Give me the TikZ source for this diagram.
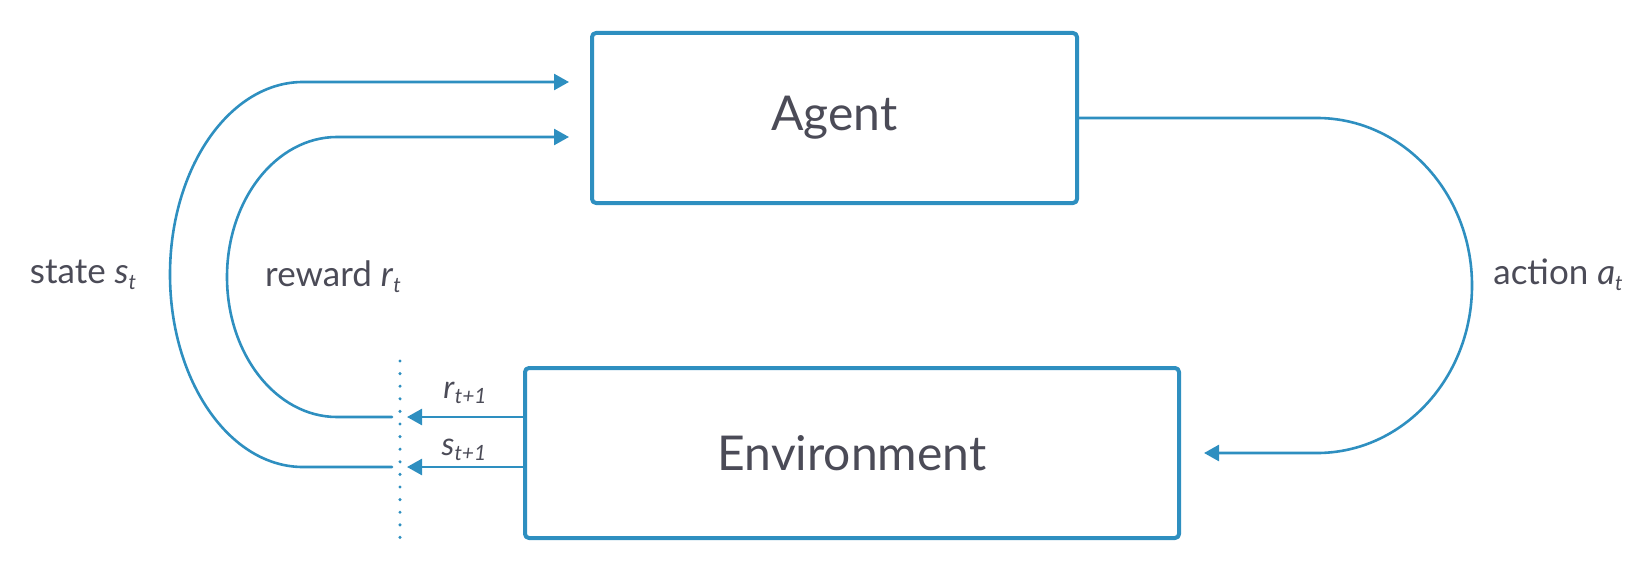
\documentclass[tikz,border=0pt]{standalone}
\usepackage{fontspec}
\setmainfont{Lato}
\usepackage{xcolor}
\usetikzlibrary{arrows.meta,shadows}
\definecolor{loop_blue}{HTML}{2E8FC0}
\definecolor{label_gray}{HTML}{4B4B57}
\newcommand{\varsub}[2]{\textit{#1}\raisebox{-0.35ex}{\fontsize{10.5}{11}\selectfont\textit{#2}}}

\begin{document}
\begin{tikzpicture}[
            x=0.5pt,
            y=0.5pt,
            line cap=round,
            line join=round,
            box/.style={draw=loop_blue, line width=2pt, rounded corners=2pt, fill=white,
                drop shadow={shadow xshift=0.8pt, shadow yshift=-0.8pt, opacity=0.12},
                minimum height=85pt, text=label_gray, font=\fontsize{24}{28}\selectfont},
            flow/.style={draw=loop_blue, line width=1.3pt, -{Triangle[length=7.5pt, width=8pt]}},
            lbl/.style={text=label_gray, font=\fontsize{17.5}{20}\selectfont, inner sep=0pt},
            sublbl/.style={text=label_gray, font=\fontsize{16}{19}\selectfont, inner sep=0pt}
        ]
            \useasboundingbox (0,0) rectangle (1637,569);

            % Agent and environment boxes
            \node[box, minimum width=242.5pt] (agent) at (834.5,451) {Agent};
            \node[box, minimum width=327pt] (env) at (852,116) {Environment};

            % Arrow tips and the time cut
            \coordinate (sin) at (569,487);
            \coordinate (rin) at (569,432);
            \coordinate (snext) at (407,102);
            \coordinate (rnext) at (407,152);
            \draw[loop_blue, line width=1.7pt, line cap=round, dash pattern=on 0pt off 6.3pt] (400,208) -- (400,31);

            % Outputs of the environment
            \draw[flow] (rnext -| env.west) -- (rnext);
            \draw[flow] (snext -| env.west) -- (snext);
            \node[sublbl] (rlbl) at (465,176) {\varsub{r}{t+1}};
            \node[sublbl] (slbl) at (464,119) {\varsub{s}{t+1}};

            % Feedback to the agent
            \draw[flow] (392,102) -- (303,102) arc[start angle=270, end angle=90, x radius=133, y radius=192.5] -- (sin);
            \draw[flow] (392,152) -- (337,152) arc[start angle=270, end angle=90, x radius=110, y radius=140] -- (rin);
            \node[lbl] (state) at (83,294) {state \varsub{s}{t}};
            \node[lbl] (reward) at (333,292) {reward \varsub{r}{t}};

            % Action
            \draw[flow] (agent.east) -- (1317,451) arc[start angle=90, end angle=-90, x radius=155, y radius=167.5] -- ([xshift=11.5pt]env.east);
            \node[lbl] (action) at (1558,294) {action \varsub{a}{t}};
        \end{tikzpicture}
\end{document}
